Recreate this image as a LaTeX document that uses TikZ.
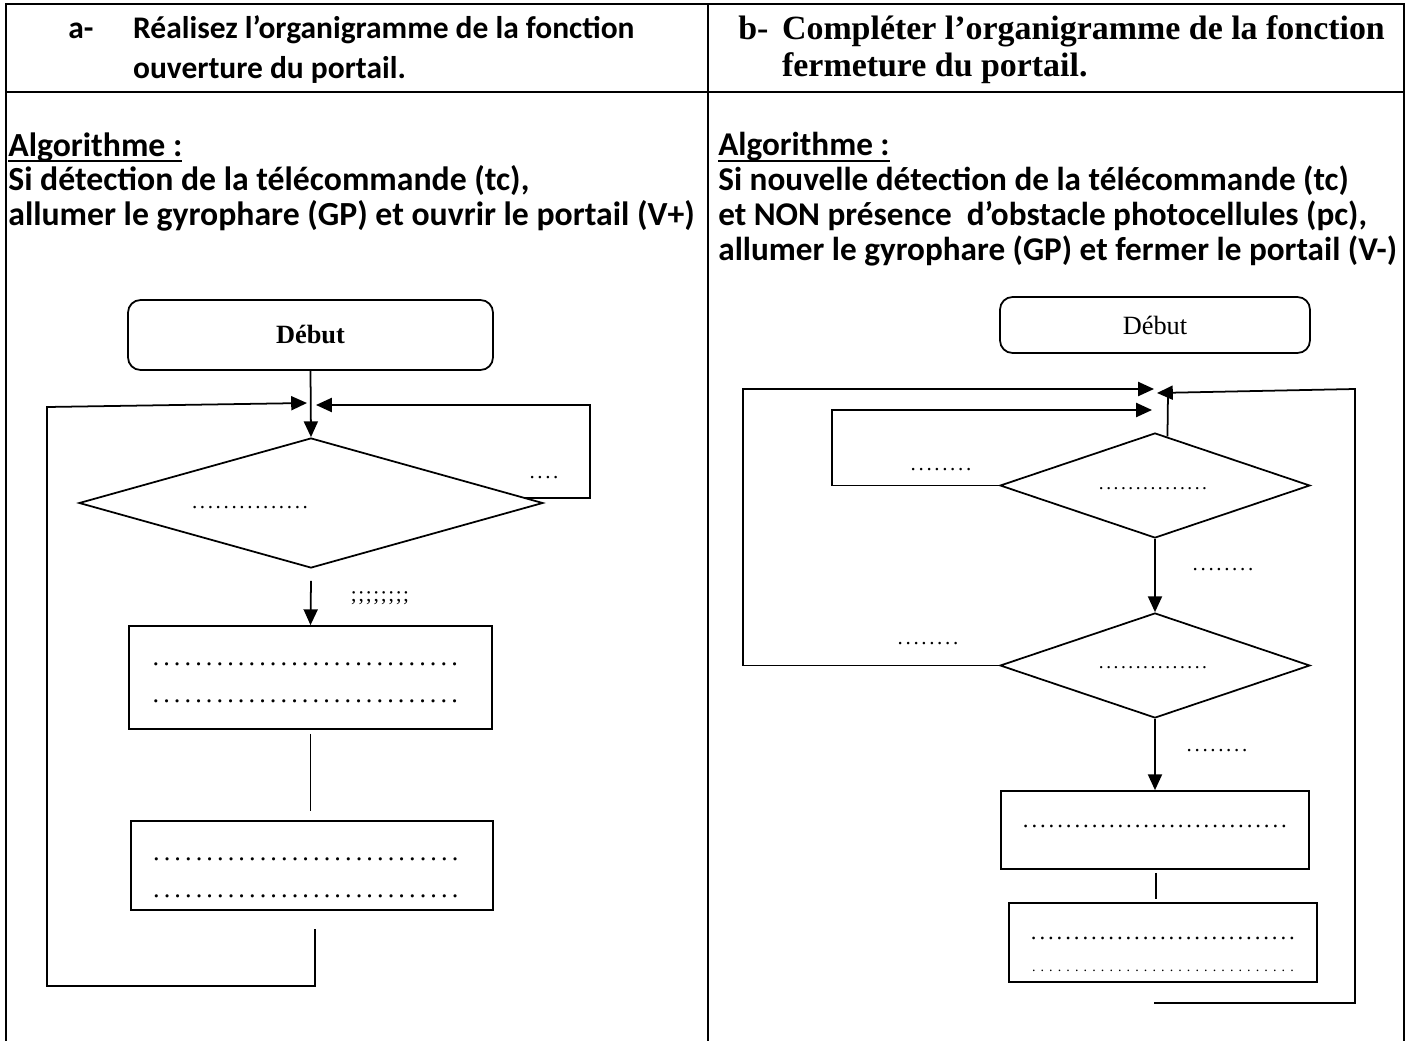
\documentclass[tikz,border=0pt]{standalone}
\usepackage{fontspec}
\setmainfont{Liberation Serif}
\newfontfamily\calibri{Carlito}
\usepackage{tikz}
\usetikzlibrary{shapes.geometric, arrows, arrows.meta, positioning, calc}
\tikzstyle{fleche} = [line width=1pt,->,>={Triangle[length=9pt,width=8pt]}]
\tikzstyle{trait} = [line width=1pt]
\tikzstyle{cadre} = [line width=1.4pt]
\tikzstyle{bloc} = [rectangle, draw, line width=1pt, inner sep=0pt]
\tikzstyle{debut} = [rectangle, draw, line width=1pt, rounded corners=0.25cm, inner sep=0pt, font=\fontsize{15}{18}\selectfont]
\tikzstyle{decision} = [diamond, draw, line width=1pt, inner sep=0pt]
\tikzstyle{pointille} = [inner sep=0pt, font=\fontsize{12}{14}\selectfont]
\tikzstyle{consigne} = [inner sep=0pt, anchor=north west, align=left, font=\calibri\bfseries\fontsize{19.2}{19.8}\selectfont]
\tikzset{every node/.style={align=center}}
\newcommand{\pointilles}[3][.]{\hbox to #2{\leaders\hbox to #3{\hss#1\hss}\hfill}}
\newcommand{\souligne}[1]{\setbox0\hbox{#1}\rlap{\rule[-0.19em]{\wd0}{1.2pt}}\box0}

\begin{document}
\begin{tikzpicture}[x=0.02cm, y=-0.02cm]
    \useasboundingbox (0,0) rectangle (1407,1041);
    % tableau
    \draw[cadre] (6,1041) -- (6,4) -- (1404,4) -- (1404,1041);
    \draw[cadre] (6,92) -- (1404,92);
    \draw[cadre] (708,4) -- (708,1041);

    % consignes
    \node (titreA) [consigne, font=\calibri\bfseries\fontsize{17.9}{22.7}\selectfont] at (68,15) {\makebox[36.9pt][l]{a-}Réalisez l’organigramme de la fonction\\\hspace*{36.9pt}ouverture du portail.};
    \node (titreB) [consigne, font=\bfseries\fontsize{19.3}{21}\selectfont] at (738,15) {\makebox[24.9pt][l]{b-}Compléter l’organigramme de la fonction\\\hspace*{24.9pt}fermeture du portail.};
    \node (algoA) [consigne] at (8,132) {\souligne{Algorithme :}\\Si détection de la télécommande (tc),\\allumer le gyrophare (GP) et ouvrir le portail (V+)};
    \node (algoB) [consigne, font=\calibri\bfseries\fontsize{18.9}{19.8}\selectfont] at (718,132) {\souligne{Algorithme :}\\Si nouvelle détection de la télécommande (tc)\\et NON présence\ \ d’obstacle photocellules (pc),\\allumer le gyrophare (GP) et fermer le portail (V-)};

    % organigramme a
    \node (debutA) [debut, font=\bfseries\fontsize{15}{18}\selectfont, minimum width=7.3cm, minimum height=1.4cm] at (310.5,335) {Début};
    \node (decA) [decision, minimum width=9.28cm, minimum height=2.6cm] at (311,503) {};
    \node (txtA) [pointille] at (250,508) {\pointilles{67.5pt}{4.5pt}};
    \node (boxA1) [bloc, minimum width=7.26cm, minimum height=2.06cm] at (310.5,677.5) {};
    \node (ptA1a) [pointille, font=\fontsize{15}{18}\selectfont] at (310.5,664) {\pointilles{182pt}{6.07pt}};
    \node (ptA1b) [pointille, font=\fontsize{15}{18}\selectfont] at (310.5,701) {\pointilles{182pt}{6.07pt}};
    \node (boxA2) [bloc, minimum width=7.24cm, minimum height=1.78cm] at (312,865.5) {};
    \node (ptA2a) [pointille, font=\fontsize{15}{18}\selectfont] at (311,859) {\pointilles{182pt}{6.07pt}};
    \node (ptA2b) [pointille, font=\fontsize{15}{18}\selectfont] at (311,896) {\pointilles{182pt}{6.07pt}};
    \node (etqA1) [pointille] at (544,478) {\pointilles{18pt}{4.5pt}};
    \node (etqA2) [pointille] at (380,598) {\pointilles[;]{34pt}{4.25pt}};

    \coordinate (jonctAg) at (307,403);
    \coordinate (jonctAd) at (316,405);
    \coordinate (hautAg) at (47,407);
    \coordinate (basAg) at (47,986);
    \coordinate (finA) at (315,929);
    \coordinate (boucleA) at (590,405);

    \draw[fleche] (debutA.south) -- (decA.north);
    \draw[fleche] ($(decA.north)!0.92!(decA.east)$) -| (boucleA) -- (jonctAd);
    \draw[fleche] (finA) |- (basAg) -- (hautAg) -- (jonctAg);
    \draw[fleche] ($(decA.south)+(0,12)$) -- (boxA1.north);
    \draw[trait] ($(boxA1.south)+(0,4)$) -- ++(0,77);

    % organigramme b
    \node (debutB) [debut, minimum width=6.2cm, minimum height=1.12cm] at (1155,325) {Début};
    \node (decB1) [decision, minimum width=6.2cm, minimum height=2.1cm] at (1155,485.5) {};
    \node (txtB1) [pointille, font=\fontsize{11}{13}\selectfont] at (1153,489) {\pointilles{63pt}{4.2pt}};
    \node (decB2) [decision, minimum width=6.2cm, minimum height=2.1cm] at (1155,665.5) {};
    \node (txtB2) [pointille, font=\fontsize{11}{13}\selectfont] at (1153,668) {\pointilles{63pt}{4.2pt}};
    \node (boxB1) [bloc, minimum width=6.16cm, minimum height=1.56cm] at (1155,830) {};
    \node (ptB1) [pointille, font=\fontsize{13}{15}\selectfont] at (1155,826) {\pointilles{152pt}{4.9pt}};
    \node (boxB2) [bloc, minimum width=6.16cm, minimum height=1.58cm] at (1163,942.5) {};
    \node (ptB2a) [pointille, font=\fontsize{13}{15}\selectfont] at (1163,938) {\pointilles{152pt}{4.9pt}};
    \node (ptB2b) [pointille, font=\fontsize{8}{10}\selectfont] at (1163,971) {\pointilles{152pt}{4.9pt}};
    \node (etqB1) [pointille] at (941,470) {\pointilles{36pt}{4.5pt}};
    \node (etqB2) [pointille] at (1223,570) {\pointilles{36pt}{4.5pt}};
    \node (etqB3) [pointille] at (928,644) {\pointilles{36pt}{4.5pt}};
    \node (etqB4) [pointille] at (1217,751) {\pointilles{36pt}{4.5pt}};

    \coordinate (jonctB1) at (1154,389);
    \coordinate (jonctB2) at (1152,410);
    \coordinate (jonctB3) at (1157,393);
    \coordinate (hautB1) at (743,389);
    \coordinate (hautB2) at (832,410);
    \coordinate (hautB3) at (1355,389);
    \coordinate (basB3) at (1355,1003);
    \coordinate (finB) at (1154,1003);
    \coordinate (tigeB) at (1168,393);

    \draw[fleche] (decB2.west) -| (hautB1) -- (jonctB1);
    \draw[fleche] (decB1.west) -| (hautB2) -- (jonctB2);
    \draw[fleche] (finB) -- (basB3) -- (hautB3) -- (jonctB3);
    \draw[trait] (tigeB) -- ($(decB1.north)!0.08!(decB1.east)$);
    \draw[fleche] (decB1.south) -- (decB2.north);
    \draw[fleche] (decB2.south) -- (boxB1.north);
    \draw[trait] ($(boxB1.south)+(1,3)$) -- ++(0,26);
\end{tikzpicture}
\end{document}
